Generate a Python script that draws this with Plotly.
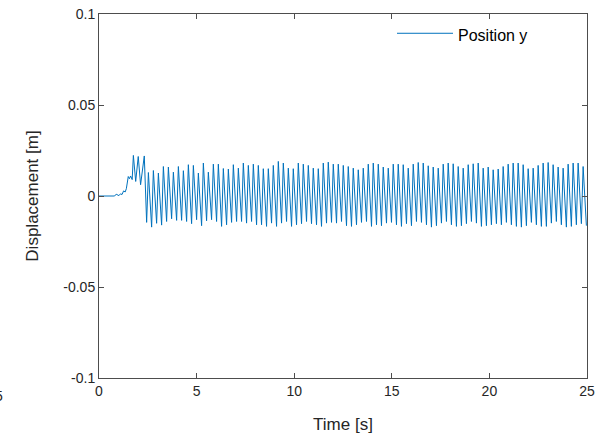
import plotly.graph_objects as go

# ---- data ----
t_transient = [0.00, 0.80, 0.88, 0.95, 1.02, 1.10, 1.18, 1.26, 1.34, 1.40, 1.46,
               1.50, 1.56, 1.62, 1.70, 1.76, 1.88, 2.01, 2.13, 2.32]
y_transient = [0.0, 0.0, 0.0010, 0.0004, 0.0002, 0.0012, 0.0008, 0.0028, 0.0022, 0.0040, 0.0075,
               0.0107, 0.0095, 0.0110, 0.0090, 0.0223, 0.0080, 0.0217, 0.0062, 0.0220]

t_first_trough = 2.44
y_first_trough = -0.0145
period = 0.256  # oscillation period [s]

peak_values = [
    0.0129, 0.0140, 0.0126, 0.0162,
    0.0159, 0.0131, 0.0162, 0.0139, 0.0172, 0.0168, 0.0126, 0.0181, 0.0131, 0.0175, 0.0175, 0.0151, 0.0148, 0.0172, 0.0153, 0.0181,
    0.0168, 0.0175, 0.0168, 0.0150, 0.0150, 0.0168, 0.0190, 0.0181, 0.0153, 0.0150, 0.0181, 0.0175, 0.0168, 0.0153, 0.0150, 0.0181,
    0.0186, 0.0175, 0.0175, 0.0168, 0.0162, 0.0153, 0.0144, 0.0153, 0.0175, 0.0181, 0.0175, 0.0159, 0.0153, 0.0175, 0.0175, 0.0172,
    0.0153, 0.0175, 0.0184, 0.0181, 0.0166, 0.0159, 0.0153, 0.0175, 0.0181, 0.0177, 0.0162, 0.0153, 0.0172, 0.0177, 0.0181, 0.0153,
    0.0159, 0.0144, 0.0148, 0.0162, 0.0175, 0.0181, 0.0181, 0.0172, 0.0150, 0.0153, 0.0168, 0.0181, 0.0184, 0.0172, 0.0159, 0.0153,
    0.0175, 0.0181, 0.0181, 0.0162,
]
trough_values = [
    -0.0171, -0.0150, -0.0160, -0.0140,
    -0.0125, -0.0134, -0.0134, -0.0140, -0.0152, -0.0130, -0.0163, -0.0136, -0.0130, -0.0140, -0.0167, -0.0158, -0.0145, -0.0140, -0.0140, -0.0149,
    -0.0140, -0.0158, -0.0158, -0.0167, -0.0149, -0.0167, -0.0149, -0.0140, -0.0167, -0.0158, -0.0152, -0.0140, -0.0152, -0.0158, -0.0167, -0.0149,
    -0.0145, -0.0149, -0.0140, -0.0163, -0.0167, -0.0158, -0.0145, -0.0140, -0.0167, -0.0158, -0.0163, -0.0149, -0.0145, -0.0158, -0.0167, -0.0152,
    -0.0163, -0.0140, -0.0145, -0.0158, -0.0171, -0.0163, -0.0149, -0.0140, -0.0158, -0.0167, -0.0163, -0.0152, -0.0140, -0.0149, -0.0167, -0.0163,
    -0.0158, -0.0152, -0.0158, -0.0145, -0.0158, -0.0167, -0.0171, -0.0163, -0.0145, -0.0158, -0.0167, -0.0167, -0.0149, -0.0140, -0.0158, -0.0171,
    -0.0167, -0.0158, -0.0152, -0.0163,
]

x_ticks = [0, 5, 10, 15, 20, 25]
y_ticks = [-0.1, -0.05, 0, 0.05, 0.1]
y_tick_labels = ["-0.1", "-0.05", "0", "0.05", "0.1"]

# ---- build the time series (sampled at peaks and troughs) ----
t = list(t_transient) + [t_first_trough]
y = list(y_transient) + [y_first_trough]
for i, (p, q) in enumerate(zip(peak_values, trough_values)):
    t.append(t_first_trough + (i + 0.35) * period)
    y.append(p)
    t.append(t_first_trough + (i + 1) * period)
    y.append(q)

FONT = "Liberation Sans, Arial, Helvetica, sans-serif"
AX = "#262626"
BORDER = "#4d4d4d"
BLUE = "#0072BD"

fig = go.Figure()
fig.add_trace(go.Scatter(x=t, y=y, mode="lines", name="Position y",
                         line=dict(color=BLUE, width=1), showlegend=False))

L, R, T, B = 99, 587, 14, 378.5
W, H = 616, 441
pw, ph = R - L, B - T


def px(xp):
    return (xp - L) / pw


def py(yp):
    return (B - yp) / ph


axis_common = dict(showline=True, linecolor=BORDER, linewidth=1, mirror="ticks",
                   ticks="inside", ticklen=5, tickcolor=BORDER, showgrid=False,
                   zeroline=False, tickfont=dict(family=FONT, size=14, color=AX),
                   automargin=False)

fig.update_layout(
    width=W, height=H,
    margin=dict(l=L, r=W - R, t=T, b=H - B),
    paper_bgcolor="white", plot_bgcolor="white",
    font=dict(family=FONT, size=14, color=AX),
    xaxis=dict(range=[0, 25], tickvals=x_ticks, ticktext=[str(v) for v in x_ticks],
               title=dict(text="Time [s]", font=dict(family=FONT, size=17, color=AX), standoff=20),
               **axis_common),
    yaxis=dict(range=[-0.1, 0.1], tickvals=y_ticks, ticktext=y_tick_labels,
               title=dict(text="Displacement [m]", font=dict(family=FONT, size=17, color=AX), standoff=20),
               **axis_common),
    showlegend=False,
)

# manual legend (MATLAB-style, no box)
fig.add_shape(type="line", xref="paper", yref="paper",
              x0=px(397), x1=px(453), y0=py(33.3), y1=py(33.3),
              line=dict(color=BLUE, width=1))
fig.add_annotation(xref="paper", yref="paper", x=px(456), y=py(35.3),
                   xanchor="left", yanchor="middle", showarrow=False,
                   text="Position y", font=dict(family=FONT, size=16, color="black"))

# stray clipped tick label at the far left of the figure
fig.add_annotation(xref="paper", yref="paper", x=px(4.5), y=py(397),
                   xanchor="right", yanchor="middle", showarrow=False,
                   text="5", font=dict(family=FONT, size=14, color=AX))

fig.write_html("out.html")
